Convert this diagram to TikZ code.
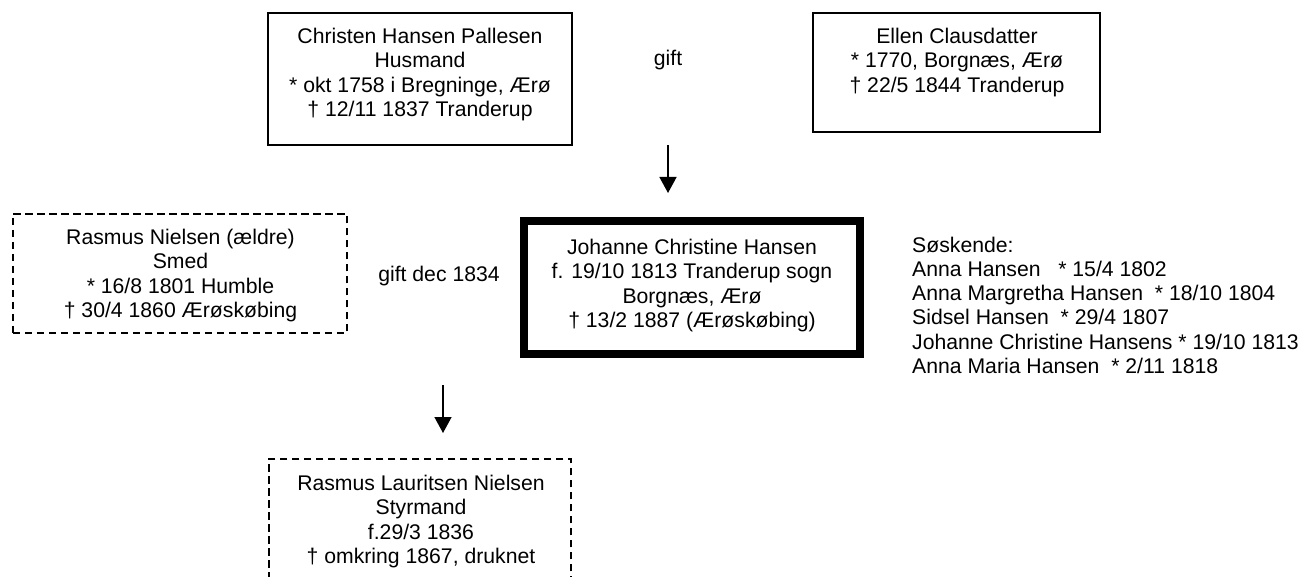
\documentclass[tikz,border=0pt]{standalone}
\usepackage{fontspec}
\setmainfont{Liberation Sans}
\usetikzlibrary{arrows.meta}
\begin{document}
\begin{tikzpicture}[x=1pt,y=-1pt,
  solidbox/.style={draw, line width=1.6pt, inner sep=0pt},
  dashbox/.style={draw, line width=1.7pt, dash pattern=on 7.5pt off 4.5pt, inner sep=0pt},
  thickbox/.style={draw, line width=8pt, inner sep=0pt},
  txt/.style={align=center, inner sep=0pt, anchor=north, font=\fontsize{21.2}{24.5}\selectfont},
  listtxt/.style={align=left, inner sep=0pt, anchor=north west, font=\fontsize{21.2}{24.2}\selectfont},
  lbl/.style={inner sep=0pt, anchor=base, font=\fontsize{21.2}{24.5}\selectfont},
  arr/.style={-{Triangle[width=17pt,length=16pt]}, line width=1.5pt}]
\useasboundingbox (0,0) rectangle (1304,577);
\fill[white] (0,0) rectangle (1304,577);
\clip (0,0) rectangle (1304,577);

% parents
\node[solidbox, minimum width=304.4pt, minimum height=132.4pt] (chr) at (420,79) {};
\node[txt] (chrt) at (420,27.7) {Christen Hansen Pallesen\\Husmand\\* okt 1758 i Bregninge, Ærø\\† 12/11 1837 Tranderup};

\node[solidbox, minimum width=287.4pt, minimum height=119.4pt] (ell) at (956.5,72.5) {};
\node[txt] (ellt) at (957,27.7) {Ellen Clausdatter\\* 1770, Borgnæs, Ærø\\† 22/5 1844 Tranderup};

\node[lbl] (gift1) at (668,66) {gift};

\coordinate (a1s) at (668,145);
\coordinate (a1e) at (668,193);
\draw[arr] (a1s) -- (a1e);

% spouse
\node[dashbox, minimum width=334.3pt, minimum height=119.3pt] (ras) at (180,273.5) {};
\node[txt] (rast) at (180.5,228.7) {Rasmus Nielsen (ældre)\\Smed\\* 16/8 1801 Humble\\† 30/4 1860 Ærøskøbing};

\node[lbl] (gift2) at (439,282) {gift dec 1834};

% main person
\node[thickbox, minimum width=336pt, minimum height=133pt] (joh) at (692,287.5) {};
\node[txt] (joht) at (692,238.7) {Johanne Christine Hansen\\f. 19/10 1813 Tranderup sogn\\Borgnæs, Ærø\\† 13/2 1887 (Ærøskøbing)};

% siblings
\node[listtxt] (sibs) at (912,236.7) {Søskende:\\
Anna Hansen\ \ \ * 15/4 1802\\
Anna Margretha Hansen\ \ * 18/10 1804\\
Sidsel Hansen\ \ * 29/4 1807\\
Johanne Christine Hansens * 19/10 1813\\
Anna Maria Hansen\ \ * 2/11 1818};

% child
\coordinate (a2s) at (443,385);
\coordinate (a2e) at (443,433);
\draw[arr] (a2s) -- (a2e);

\node[dashbox, minimum width=302.3pt, minimum height=134pt] (child) at (420,526) {};
\node[txt] (childt) at (421,474.7) {Rasmus Lauritsen Nielsen\\Styrmand\\f.29/3 1836\\† omkring 1867, druknet};
\end{tikzpicture}
\end{document}
